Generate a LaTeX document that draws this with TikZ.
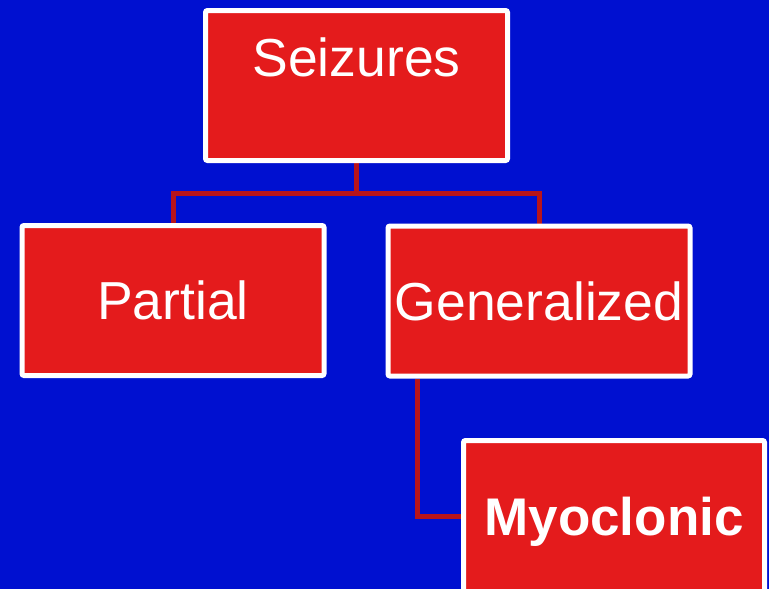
\documentclass[tikz,border=0pt]{standalone}
\usepackage{fontspec}
\setmainfont{Liberation Sans}
\usetikzlibrary{backgrounds}
\definecolor{bgblue}{RGB}{0,16,208}
\definecolor{boxred}{RGB}{228,27,28}
\definecolor{linered}{RGB}{184,20,26}
\tikzset{
  box/.style={draw=white, line width=5pt, fill=boxred, rounded corners=2pt,
    minimum width=302pt, minimum height=150pt, inner sep=0pt,
    text=white, font=\fontsize{53.5}{60}\selectfont, text height=38pt, text depth=0pt},
  conn/.style={draw=linered, line width=5pt, line join=miter}
}
\begin{document}
\begin{tikzpicture}[x=1pt,y=-1pt]
\useasboundingbox (0,0) rectangle (769,589);
\clip (0,0) rectangle (769,589);
\node[box, text depth=57pt] (s) at (356.5,85.5) {Seizures};
\node[box] (p) at (173,300.5) {Partial};
\node[box] (g) at (539,301) {Generalized};
\node[box, minimum width=301pt, minimum height=151pt, font=\fontsize{53}{60}\selectfont\bfseries] (m) at (614,516) {Myoclonic};
\begin{pgfonlayer}{background}
\fill[bgblue] (0,0) rectangle (769,589);
\draw[conn] (s.south) -- ++(0,30) -| (p.north);
\draw[conn] (s.south) ++(0,30) -| (g.north);
\draw[conn] (g.south west) ++(31.5,0) |- (m.west);
\end{pgfonlayer}
\end{tikzpicture}
\end{document}
